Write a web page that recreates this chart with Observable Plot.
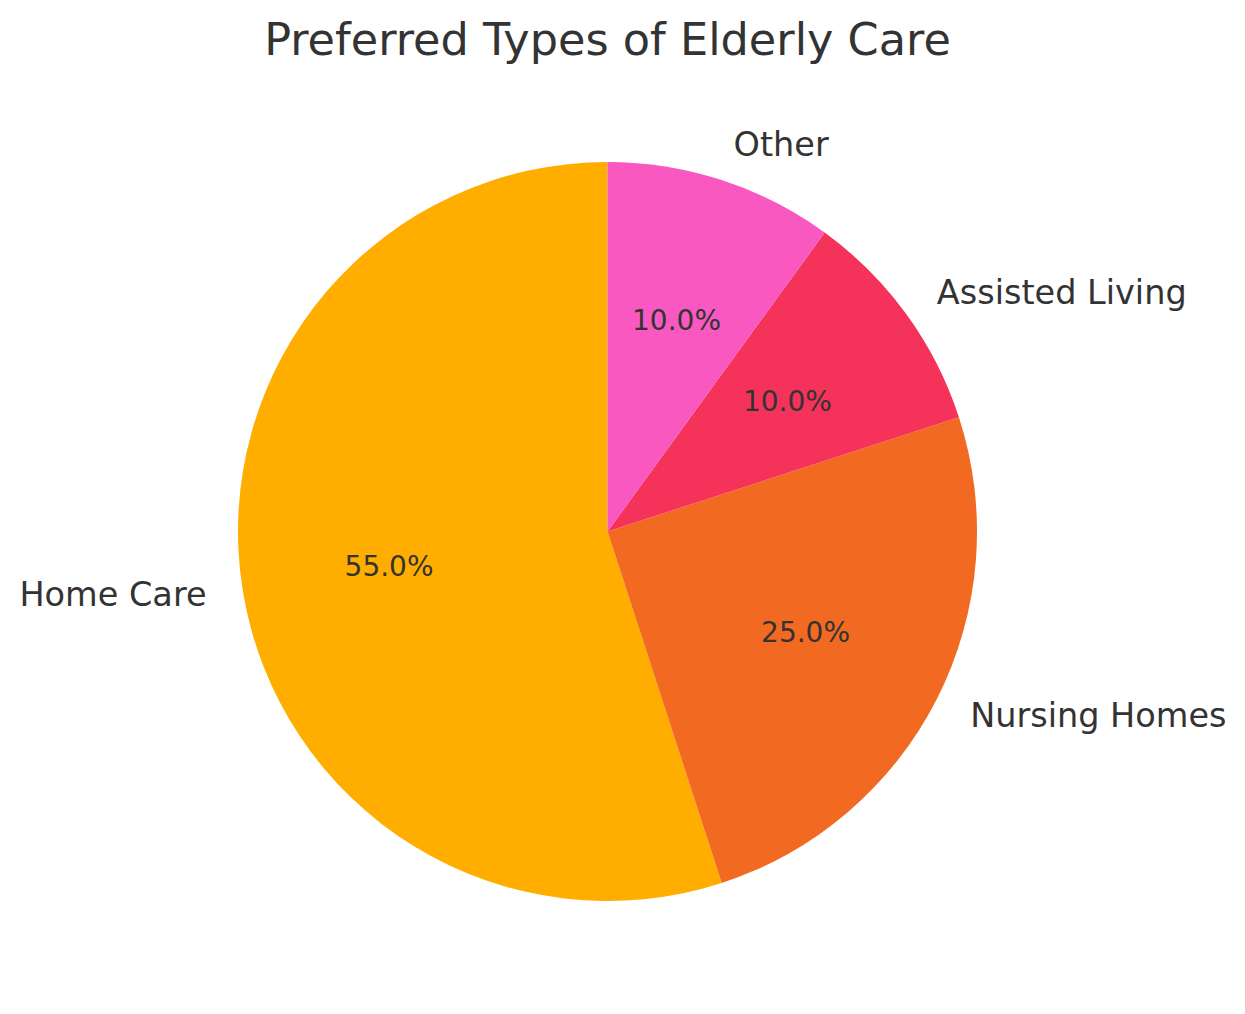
<!DOCTYPE html>
<html>
<head>
<meta charset="utf-8">
<script src="https://cdn.jsdelivr.net/npm/d3@7"></script>
<script src="https://cdn.jsdelivr.net/npm/@observablehq/plot@0.6"></script>
<style>
  html, body { margin: 0; padding: 0; background: #fff; }
  body { width: 1245px; font-family: "DejaVu Sans", sans-serif; color: #333; }
  #title { height: 80px; box-sizing: border-box; padding-top: 14px; padding-left: 0; padding-right: 30px; text-align: center; font-size: 44.6px; line-height: normal; color: #333; white-space: nowrap; }
  svg { display: block; }
</style>
</head>
<body>
<div id="title">Preferred Types of Elderly Care</div>
<div id="chart"></div>
<script>
const categories = ["Home Care", "Nursing Homes", "Assisted Living", "Other"];
const values = [55, 25, 10, 10];
const colors = ["#FFAE00", "#F26A21", "#F53259", "#F858BF"];

const W = 1245, H = 934;
const R = 369.5, CX = 607.5, CY = 451.5;

const pie = d3.pie().sort(null).value(d => d.value).startAngle(0).endAngle(-2 * Math.PI);
const table = categories.map((c, i) => ({category: c, value: values[i], color: colors[i]}));
const arcs = pie(table);
const total = d3.sum(values);

// label positions in data units (radius = 1), matplotlib-style
const labels = arcs.map(a => {
  const mid = (a.startAngle + a.endAngle) / 2; // d3 angle: 0 at top, clockwise
  const sx = Math.sin(mid), sy = Math.cos(mid);
  return {
    category: a.data.category,
    pct: (a.data.value / total * 100).toFixed(1) + "%",
    lx: 1.1 * sx, ly: 1.1 * sy,
    px: 0.6 * sx, py: 0.6 * sy,
    side: sx > 0 ? "right" : "left"
  };
});

const wedges = (index, {x, y}) => {
  const rpx = x(1) - x(0);
  const g = d3.create("svg:g").attr("transform", `translate(${x(0)},${y(0)})`);
  const arcGen = d3.arc().innerRadius(0).outerRadius(rpx);
  g.selectAll("path").data(arcs).join("path")
    .attr("d", arcGen)
    .attr("fill", d => d.data.color);
  return g.node();
};

const plot = Plot.plot({
  width: W, height: H,
  margin: 0,
  x: {type: "linear", domain: [-CX / R, (W - CX) / R], range: [0, W], axis: null},
  y: {type: "linear", domain: [-(H - CY) / R, CY / R], range: [H, 0], axis: null},
  style: {fontFamily: "DejaVu Sans, sans-serif", color: "#333", background: "white"},
  marks: [
    wedges,
    Plot.text(labels.filter(d => d.side === "right"), {x: "lx", y: "ly", text: "category", textAnchor: "start", fontSize: 33.5, fill: "#333", lineAnchor: "middle"}),
    Plot.text(labels.filter(d => d.side === "left"), {x: "lx", y: "ly", text: "category", textAnchor: "end", fontSize: 33.5, fill: "#333", lineAnchor: "middle"}),
    Plot.text(labels, {x: "px", y: "py", text: "pct", textAnchor: "middle", fontSize: 28, fill: "#333", lineAnchor: "middle"})
  ]
});
document.getElementById("chart").appendChild(plot);
</script>
</body>
</html>
